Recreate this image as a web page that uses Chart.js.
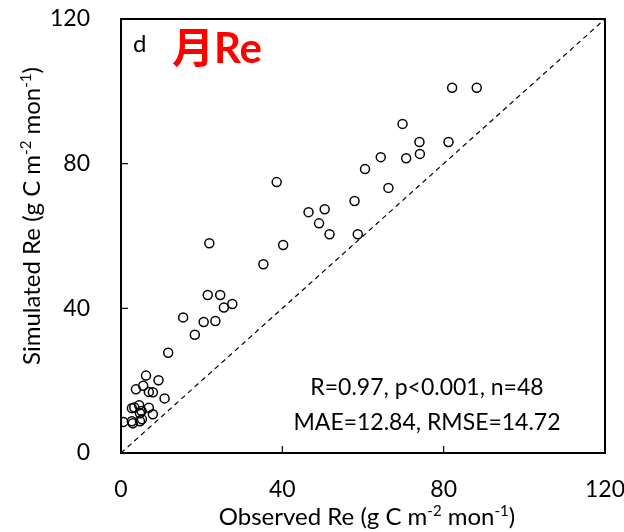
<!DOCTYPE html>
<html>
<head>
<meta charset="utf-8">
<script src="https://cdn.jsdelivr.net/npm/chart.js@4.4.0/dist/chart.umd.min.js"></script>
<style>
  html, body { margin: 0; padding: 0; background: #fff; }
  #wrap { width: 624px; height: 532px; }
</style>
</head>
<body>
<div id="wrap"><canvas id="c" width="624" height="532"></canvas></div>
<script>
// ---- data ----
const observed = [
  88.2, 82.1, 69.8, 74.0, 81.2, 74.1, 70.7, 64.4, 60.5, 38.6,
  66.3, 57.9, 46.5, 50.5, 49.1, 51.7, 58.7, 40.2, 21.9, 35.3,
  21.5, 24.6, 27.6, 25.5, 15.4, 20.5, 23.4, 18.3, 11.7,
  6.2, 9.3, 3.7, 5.5, 6.9, 7.9, 10.8, 2.7, 3.3, 4.5,
  5.1, 6.9, 7.9, 4.7, 0.6, 2.7, 2.9, 5.2, 4.7
];
const simulated = [
  101.0, 101.0, 91.0, 86.0, 86.0, 82.7, 81.5, 81.8, 78.5, 74.9,
  73.3, 69.7, 66.6, 67.4, 63.5, 60.5, 60.5, 57.5, 58.0, 52.2,
  43.7, 43.7, 41.2, 40.2, 37.5, 36.2, 36.5, 32.7, 27.7,
  21.4, 20.1, 17.6, 18.6, 16.9, 16.8, 15.1, 12.4, 12.6, 13.2,
  11.6, 12.5, 10.7, 11.0, 8.6, 8.8, 8.2, 9.3, 8.8
];
const oneToOne = [0, 120];
const axisTicks = [0, 40, 80, 120];
const statsLines = ["R=0.97, p<0.001, n=48", "MAE=12.84, RMSE=14.72"];

const FONT = "Lato, 'Noto Sans', sans-serif";

// draw text with superscript parts: parts = [[text, isSup], ...]
function supText(ctx, parts, cx, cy, size){
  const supSize = Math.round(size * 0.62);
  let total = 0;
  for(const [t, sup] of parts){
    ctx.font = `${sup ? supSize : size}px ${FONT}`;
    total += ctx.measureText(t).width;
  }
  let x = cx - total / 2;
  ctx.textAlign = "left";
  ctx.textBaseline = "alphabetic";
  for(const [t, sup] of parts){
    ctx.font = `${sup ? supSize : size}px ${FONT}`;
    ctx.fillText(t, x, sup ? cy - size * 0.38 : cy);
    x += ctx.measureText(t).width;
  }
}

function fixBox(s, w, h){
  if(w) s.width = w;
  if(h) s.height = h;
  s.paddingLeft = s.paddingRight = s.paddingTop = s.paddingBottom = 0;
}

const decor = {
  id: "decor",
  afterDraw(chart){
    const ctx = chart.ctx;
    const a = chart.chartArea;
    const xs = chart.scales.x, ys = chart.scales.y;
    ctx.save();
    ctx.strokeStyle = "#000";
    ctx.lineWidth = 2;
    ctx.strokeRect(a.left, a.top, a.right - a.left, a.bottom - a.top);
    // inward ticks
    ctx.lineWidth = 1.2;
    for(const v of axisTicks.slice(1, -1)){
      const px = xs.getPixelForValue(v);
      ctx.beginPath(); ctx.moveTo(px, a.bottom); ctx.lineTo(px, a.bottom - 7); ctx.stroke();
      const py = ys.getPixelForValue(v);
      ctx.beginPath(); ctx.moveTo(a.left, py); ctx.lineTo(a.left + 7, py); ctx.stroke();
    }
    ctx.fillStyle = "#000";
    // panel letter
    ctx.font = `24px ${FONT}`;
    ctx.textAlign = "left";
    ctx.textBaseline = "alphabetic";
    ctx.fillText("d", 133, 52);
    // red title
    ctx.fillStyle = "#ff0000";
    ctx.font = `bold 42px ${FONT}, 'Noto Sans CJK SC'`;
    ctx.fillText("月Re", 172, 63);
    // stats
    ctx.fillStyle = "#000";
    ctx.font = `23px ${FONT}`;
    ctx.textAlign = "center";
    ctx.fillText(statsLines[0], 427, 395);
    ctx.fillText(statsLines[1], 427, 430);
    // axis titles
    supText(ctx, [["Observed Re (g C m", 0], ["-2", 1], [" mon", 0], ["-1", 1], [")", 0]], 367, 525, 24);
    ctx.translate(40, 216);
    ctx.rotate(-Math.PI / 2);
    supText(ctx, [["Simulated Re (g C m", 0], ["-2", 1], [" mon", 0], ["-1", 1], [")", 0]], 0, 0, 24);
    ctx.restore();
  }
};

const points = observed.map((x, i) => ({ x, y: simulated[i] }));

new Chart(document.getElementById("c"), {
  type: "scatter",
  data: {
    datasets: [
      {
        type: "line",
        data: oneToOne.map(v => ({ x: v, y: v })),
        borderColor: "#000",
        borderWidth: 1.2,
        borderDash: [5, 4],
        pointRadius: 0,
        fill: false
      },
      {
        data: points,
        pointStyle: "circle",
        pointRadius: 4.5,
        borderColor: "#000",
        borderWidth: 1.5,
        backgroundColor: "rgba(0,0,0,0)"
      }
    ]
  },
  options: {
    responsive: false,
    devicePixelRatio: 1,
    animation: false,
    layout: { padding: { left: 0, right: 19, top: 19, bottom: 0 } },
    plugins: { legend: { display: false }, tooltip: { enabled: false } },
    scales: {
      x: {
        type: "linear", min: 0, max: 120,
        afterBuildTicks: s => { s.ticks = axisTicks.map(v => ({ value: v })); },
        ticks: { color: "#000", font: { family: FONT, size: 23 }, padding: 23, maxRotation: 0 },
        grid: { display: false, drawTicks: false },
        border: { display: false },
        afterFit: s => fixBox(s, 0, 79)
      },
      y: {
        type: "linear", min: 0, max: 120,
        afterBuildTicks: s => { s.ticks = axisTicks.map(v => ({ value: v })); },
        ticks: { color: "#000", font: { family: FONT, size: 23 }, padding: 31 },
        grid: { display: false, drawTicks: false },
        border: { display: false },
        afterFit: s => fixBox(s, 121, 0)
      }
    }
  },
  plugins: [decor]
});
</script>
</body>
</html>
